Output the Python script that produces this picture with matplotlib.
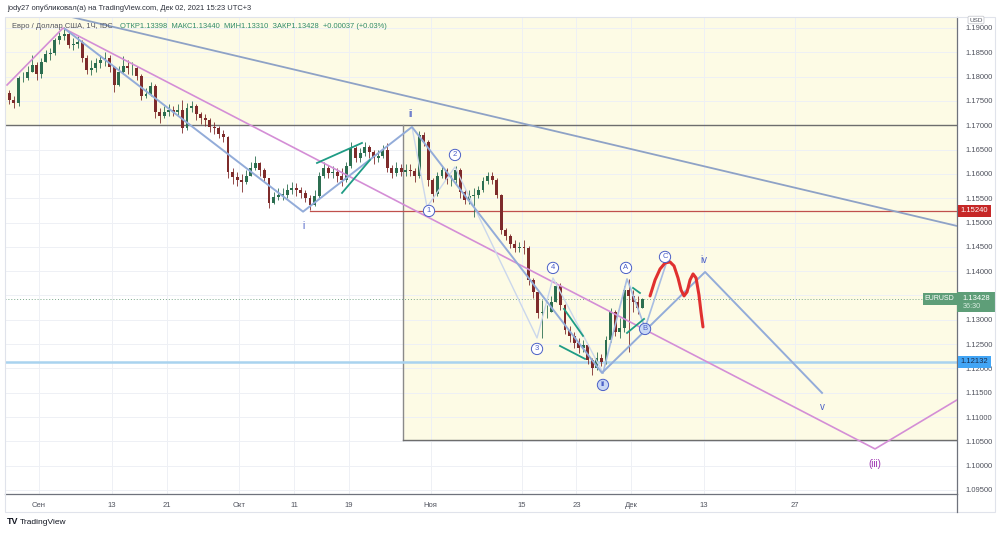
import numpy as np
import matplotlib
matplotlib.use('Agg')
import matplotlib.pyplot as plt
from matplotlib.patches import Rectangle
from matplotlib.lines import Line2D
import matplotlib.transforms as mtransforms

plt.rcParams['font.family'] = ['Liberation Sans', 'DejaVu Sans']

# ---------------- data (x = trading-day index, 0 = 1 Sep 2021; 12h bars) ----------------
bar_start_day = -3.5
bar_step = 0.5
first_open = 1.1766

close = [1.1752, 1.1746, 1.1797, 1.1797, 1.1810, 1.1824, 1.1805, 1.1830, 1.1847, 1.1849,
         1.1875, 1.1884, 1.1888, 1.1865, 1.1867, 1.1871, 1.1838, 1.1814, 1.1818, 1.1828,
         1.1834, 1.1838, 1.1820, 1.1783, 1.1810, 1.1822, 1.1818, 1.1818, 1.1801, 1.1760,
         1.1764, 1.1781, 1.1727, 1.1719, 1.1727, 1.1731, 1.1727, 1.1731, 1.1694, 1.1736,
         1.1740, 1.1723, 1.1715, 1.1711, 1.1696, 1.1694, 1.1682, 1.1676, 1.1604, 1.1594,
         1.1587, 1.1583, 1.1596, 1.1612, 1.1622, 1.1608, 1.1592, 1.1540, 1.1553, 1.1557,
         1.1557, 1.1567, 1.1571, 1.1567, 1.1561, 1.1550, 1.1536, 1.1555, 1.1596, 1.1612,
         1.1602, 1.1604, 1.1596, 1.1587, 1.1616, 1.1653, 1.1633, 1.1643, 1.1655, 1.1645,
         1.1633, 1.1637, 1.1649, 1.1612, 1.1602, 1.1612, 1.1604, 1.1608, 1.1606, 1.1596,
         1.1680, 1.1666, 1.1587, 1.1559, 1.1596, 1.1608, 1.1587, 1.1587, 1.1608, 1.1563,
         1.1546, 1.1555, 1.1557, 1.1567, 1.1585, 1.1596, 1.1587, 1.1557, 1.1485, 1.1472,
         1.1456, 1.1448, 1.1450, 1.1448, 1.1382, 1.1357, 1.1314, 1.1316, 1.1316, 1.1337,
         1.1370, 1.1331, 1.1279, 1.1267, 1.1252, 1.1242, 1.1248, 1.1217, 1.1201, 1.1222,
         1.1213, 1.1259, 1.1316, 1.1275, 1.1283, 1.1361, 1.1349, 1.1337, 1.1324, 1.13428]

high = [1.1773, 1.1760, 1.1801, 1.1810, 1.1822, 1.1844, 1.1830, 1.1838, 1.1855, 1.1859,
        1.1879, 1.1892, 1.1902, 1.1892, 1.1879, 1.1884, 1.1875, 1.1844, 1.1834, 1.1838,
        1.1844, 1.1851, 1.1844, 1.1822, 1.1822, 1.1842, 1.1834, 1.1830, 1.1822, 1.1805,
        1.1777, 1.1789, 1.1785, 1.1736, 1.1740, 1.1744, 1.1740, 1.1744, 1.1752, 1.1746,
        1.1750, 1.1744, 1.1727, 1.1723, 1.1715, 1.1707, 1.1699, 1.1690, 1.1678, 1.1612,
        1.1604, 1.1600, 1.1608, 1.1624, 1.1637, 1.1624, 1.1612, 1.1592, 1.1563, 1.1571,
        1.1571, 1.1579, 1.1583, 1.1581, 1.1573, 1.1567, 1.1557, 1.1567, 1.1604, 1.1624,
        1.1618, 1.1616, 1.1612, 1.1612, 1.1624, 1.1666, 1.1657, 1.1653, 1.1666, 1.1659,
        1.1649, 1.1649, 1.1659, 1.1664, 1.1618, 1.1624, 1.1620, 1.1620, 1.1620, 1.1612,
        1.1688, 1.1686, 1.1670, 1.1592, 1.1604, 1.1616, 1.1612, 1.1598, 1.1616, 1.1612,
        1.1567, 1.1567, 1.1571, 1.1575, 1.1594, 1.1604, 1.1604, 1.1592, 1.1559, 1.1489,
        1.1476, 1.1464, 1.1460, 1.1464, 1.1452, 1.1386, 1.1361, 1.1341, 1.1331, 1.1349,
        1.1378, 1.1376, 1.1333, 1.1287, 1.1275, 1.1263, 1.1259, 1.1250, 1.1222, 1.1234,
        1.1230, 1.1267, 1.1324, 1.1320, 1.1304, 1.1370, 1.1384, 1.1361, 1.1349, 1.1344]

low = [1.1744, 1.1736, 1.1740, 1.1789, 1.1793, 1.1810, 1.1793, 1.1797, 1.1830, 1.1834,
       1.1844, 1.1867, 1.1875, 1.1859, 1.1855, 1.1859, 1.1830, 1.1805, 1.1803, 1.1810,
       1.1818, 1.1822, 1.1810, 1.1768, 1.1781, 1.1805, 1.1805, 1.1803, 1.1793, 1.1752,
       1.1756, 1.1760, 1.1715, 1.1705, 1.1715, 1.1719, 1.1719, 1.1719, 1.1684, 1.1690,
       1.1727, 1.1711, 1.1703, 1.1699, 1.1686, 1.1682, 1.1674, 1.1666, 1.1592, 1.1579,
       1.1575, 1.1563, 1.1579, 1.1596, 1.1608, 1.1596, 1.1583, 1.1530, 1.1538, 1.1546,
       1.1546, 1.1550, 1.1559, 1.1555, 1.1550, 1.1542, 1.1526, 1.1534, 1.1550, 1.1592,
       1.1592, 1.1592, 1.1583, 1.1575, 1.1583, 1.1612, 1.1624, 1.1624, 1.1637, 1.1633,
       1.1620, 1.1624, 1.1633, 1.1604, 1.1592, 1.1596, 1.1596, 1.1596, 1.1596, 1.1583,
       1.1592, 1.1657, 1.1575, 1.1542, 1.1555, 1.1592, 1.1579, 1.1575, 1.1579, 1.1550,
       1.1538, 1.1538, 1.1511, 1.1550, 1.1563, 1.1579, 1.1579, 1.1550, 1.1476, 1.1464,
       1.1448, 1.1439, 1.1439, 1.1435, 1.1372, 1.1345, 1.1304, 1.1263, 1.1304, 1.1316,
       1.1337, 1.1320, 1.1271, 1.1255, 1.1242, 1.1232, 1.1234, 1.1209, 1.1187, 1.1197,
       1.1205, 1.1209, 1.1255, 1.1267, 1.1263, 1.1275, 1.1234, 1.1316, 1.1312, 1.1331]

date_ticks = [0, 8, 14, 22, 28, 34, 43, 53, 59, 65, 73, 83]
date_labels = ['Сен', '13', '21', 'Окт', '11', '19', 'Ноя', '15', '23', 'Дек', '13', '27']
price_ticks = [1.095, 1.100, 1.105, 1.110, 1.115, 1.120, 1.125, 1.130, 1.135, 1.140,
               1.145, 1.150, 1.155, 1.160, 1.165, 1.170, 1.175, 1.180, 1.185, 1.190]

level_black = 1.17000
level_red = 1.15240
level_blue = 1.12132
last_price = 1.13428
box_left_day = 39.96
box_bottom = 1.10529
red_start_day = 29.75

# drawings (day, price)
pink_days = [-3.51, 2.635, 91.79, 100.79]
pink_prices = [1.17828, 1.19000, 1.10344, 1.11352]
long_days = [2.635, 100.79]
long_prices = [1.19267, 1.14929]
wave_days = [2.85, 28.99, 40.95, 61.81, 73.13, 85.97]
wave_prices = [1.18980, 1.15223, 1.16965, 1.11907, 1.13983, 1.11496]
sub_days = [40.95, 42.60, 45.67, 54.68, 56.43, 61.92]
sub_prices = [1.16965, 1.15320, 1.16142, 1.12626, 1.13860, 1.11907]
abc_days = [61.92, 64.56, 66.54, 69.06]
abc_prices = [1.11907, 1.13840, 1.12832, 1.14271]
teal_segments = [((30.52, 1.16224), (35.46, 1.16636)),
                 ((33.27, 1.15608), (36.34, 1.16286)),
                 ((57.64, 1.13223), (59.73, 1.12668)),
                 ((57.20, 1.12462), (59.95, 1.12195)),
                 ((65.22, 1.13654), (65.98, 1.13551)),
                 ((64.56, 1.12729), (66.43, 1.13017))]
red_days = [67.09, 67.64, 68.19, 68.74, 69.28, 69.72, 70.16, 70.49, 70.82, 71.15,
            71.48, 71.81, 72.14, 72.46, 72.68, 72.90]
red_prices = [1.1349, 1.13819, 1.14045, 1.14168, 1.14189, 1.14107, 1.1386, 1.13613,
              1.1349, 1.13572, 1.13819, 1.13942, 1.1386, 1.1351, 1.13161, 1.12853]

plain_labels = [('i', 28.99, 1.14929), ('ii', 40.84, 1.17232), ('iv', 73.01, 1.1423),
                ('v', 85.97, 1.11208)]
circle_labels = [('1', 42.82, 1.15238), ('2', 45.67, 1.16389), ('3', 54.68, 1.1240),
                 ('4', 56.43, 1.14066), ('A', 64.45, 1.14066), ('B', 66.54, 1.12811),
                 ('C', 68.73, 1.14292), ('ii', 61.92, 1.11660)]
purple_label = ('(iii)', 91.79, 1.10036)

# ---------------- figure ----------------
W, H = 1000, 534
fig = plt.figure(figsize=(W / 100, H / 100), dpi=100)
fig.patch.set_facecolor('white')
ax = fig.add_axes([5 / W, 1 - 494 / H, 952 / W, 477 / H])
ax.set_xlim(-3.733, 100.79)
ax.set_ylim(1.09417, 1.19226)
ax.set_facecolor('white')

# grid and ticks
ax.set_xticks(date_ticks)
ax.set_xticklabels(date_labels, fontsize=5.5, color='#50535e')
ax.yaxis.tick_right()
ax.set_yticks(price_ticks)
# the 1.13500 label is hidden behind the last-price box in the reference
ax.set_yticklabels(['' if abs(p - 1.135) < 1e-9 else f'{p:.5f}' for p in price_ticks],
                   fontsize=5.5, color='#50535e')
ax.tick_params(axis='both', length=0)
ax.tick_params(axis='x', pad=6)
ax.tick_params(axis='y', pad=6)
ax.grid(True, color='#eef0f5', lw=0.7, zorder=0)
ax.set_axisbelow(True)
for s in ['top', 'left']:
    ax.spines[s].set_visible(False)
for s in ['bottom', 'right']:
    ax.spines[s].set_color('#6f727c')
    ax.spines[s].set_linewidth(0.9)

# yellow zones
yellow = '#fdfbdf'
ax.add_patch(Rectangle((-10, level_black), 120, 0.05, fc=yellow, ec='none', alpha=0.8, zorder=0.5))
ax.add_patch(Rectangle((box_left_day, box_bottom), 120, level_black - box_bottom,
                       fc=yellow, ec='none', alpha=0.8, zorder=0.5))
ax.axhline(level_black, color='#6d6d6d', lw=1.0, zorder=1)
ax.plot([box_left_day, box_left_day], [box_bottom, level_black], color='#8a8a8a', lw=1.0, zorder=1)
ax.plot([box_left_day, 110], [box_bottom, box_bottom], color='#6d6d6d', lw=1.0, zorder=1)

# horizontal levels
ax.plot([red_start_day, 110], [level_red, level_red], color='#c0504d', lw=0.9, zorder=1.5)
ax.axhline(level_blue, color='#a9d3ef', lw=1.8, zorder=1.5)
ax.axhline(last_price, color='#7aa88a', lw=0.7, ls=(0, (1, 2)), zorder=1.5)

# candles
n = len(close)
xs = bar_start_day + bar_step * (np.arange(n) + 0.5)
c = np.array(close)
o = np.array([first_open] + close[:-1])
h = np.maximum(np.array(high), np.maximum(o, c))
l = np.minimum(np.array(low), np.minimum(o, c))
up = c >= o
col_up, col_dn = '#2c6e50', '#7e2b2b'
colors = np.where(up, col_up, col_dn)
ax.vlines(xs, l, h, colors=colors, lw=0.6, zorder=3)
body_h = np.maximum(np.abs(c - o), 0.00006)
ax.bar(xs, body_h, bottom=np.minimum(o, c), width=0.32, color=colors, lw=0, zorder=3.1)

# drawings
ax.plot(pink_days, pink_prices, color='#d48ed6', lw=1.2, zorder=4)
ax.plot(long_days, long_prices, color='#8ea2c6', lw=1.3, zorder=4)
ax.plot(sub_days, sub_prices, color='#cbd7ec', lw=1.0, zorder=4)
ax.plot(abc_days, abc_prices, color='#a8bde2', lw=1.2, zorder=4)
ax.plot(wave_days, wave_prices, color='#93acd9', lw=1.4, zorder=4.1)
for (d0, p0), (d1, p1) in teal_segments:
    ax.plot([d0, d1], [p0, p1], color='#1f9c85', lw=1.3, zorder=4.2)
ax.plot(red_days, red_prices, color='#e0302f', lw=2.2, zorder=4.3,
        solid_capstyle='round', solid_joinstyle='round')

lab_col = '#4a5fc6'
for t, d, p in plain_labels:
    ax.text(d, p, t, color=lab_col, fontsize=7, ha='center', va='center', zorder=6)
for t, d, p in circle_labels:
    fc = '#c9d8f5' if t in ('B', 'ii') else 'white'
    ax.text(d, p, t, color=lab_col, fontsize=5.5, ha='center', va='center', zorder=6,
            fontweight='bold' if t == 'ii' else 'normal',
            bbox=dict(boxstyle='circle,pad=0.28', fc=fc, ec=lab_col, lw=0.7))
ax.text(purple_label[1], purple_label[2], purple_label[0], color='#9c30b0', fontsize=7,
        ha='center', va='center', zorder=6)

# legend text
t1 = ax.text(7 / 952, 1 - 9 / 477, 'Евро / Доллар США, 1Ч, IDC', transform=ax.transAxes,
             fontsize=5.4, color='#50535e', va='center', ha='left', zorder=7)
ax.annotate('ОТКР1.13398  МАКС1.13440  МИН1.13310  ЗАКР1.13428  +0.00037 (+0.03%)',
            xy=(1, 0.5), xycoords=t1, xytext=(5, 0), textcoords='offset points',
            fontsize=5.4, color='#2f8a68', va='center', ha='left', zorder=7)

# price axis labels
trans = mtransforms.blended_transform_factory(ax.transAxes, ax.transData)
ax.text(1.004, level_red, f'{level_red:.5f}', transform=trans, fontsize=5.5, color='white',
        ha='left', va='center', clip_on=False, zorder=10,
        bbox=dict(boxstyle='square,pad=0.35', fc='#c62828', ec='none'))
ax.text(1.004, level_blue, f'{level_blue:.5f}', transform=trans, fontsize=5.5, color='#1b2b4a',
        ha='left', va='center', clip_on=False, zorder=10,
        bbox=dict(boxstyle='square,pad=0.35', fc='#42a5f5', ec='none'))
ax.add_patch(Rectangle((1.0, 1.13161), 38 / 952, 0.00411, transform=trans, fc='#5e9e78',
                       ec='none', clip_on=False, zorder=9))
ax.text(1.004 + 2 / 952, last_price, f'{last_price:.5f}', transform=trans, fontsize=5.5,
        color='white', ha='left', va='center', clip_on=False, zorder=10)
ax.text(1.004 + 2 / 952, 1.13264, '36:30', transform=trans, fontsize=5.2,
        color='#d8ecdf', ha='left', va='center', clip_on=False, zorder=10)
ax.text(0.9975, last_price, 'EURUSD', transform=trans, fontsize=5, color='white',
        ha='right', va='center', zorder=10,
        bbox=dict(boxstyle='square,pad=0.3', fc='#5e9e78', ec='none'))

# figure-level decorations
fig.text(976 / W, 1 - 20 / H, 'USD', fontsize=4.6, color='#50535e', ha='center', va='center',
         bbox=dict(boxstyle='round,pad=0.2', fc='white', ec='#c8cad0', lw=0.6), zorder=11)
fig.add_artist(Rectangle((5 / W, 1 - 512 / H), 990 / W, 495 / H, transform=fig.transFigure,
                         fill=False, ec='#e0e3eb', lw=0.8))
fig.add_artist(Line2D([957 / W, 957 / W], [1 - 512 / H, 1 - 494 / H], transform=fig.transFigure,
                      color='#6f727c', lw=0.9))
fig.text(7 / W, 1 - 8 / H, 'jody27 опубликовал(а) на TradingView.com, Дек 02, 2021 15:23 UTC+3',
         fontsize=5.4, color='#2a2e39', va='center', ha='left')
fig.text(7 / W, 1 - 522 / H, 'TV', fontsize=6.5, fontweight='bold', color='#131722',
         va='center', ha='left')
fig.text(20 / W, 1 - 522 / H, 'TradingView', fontsize=6, color='#131722', va='center', ha='left')

fig.savefig('out.png', dpi=100, facecolor='white')
